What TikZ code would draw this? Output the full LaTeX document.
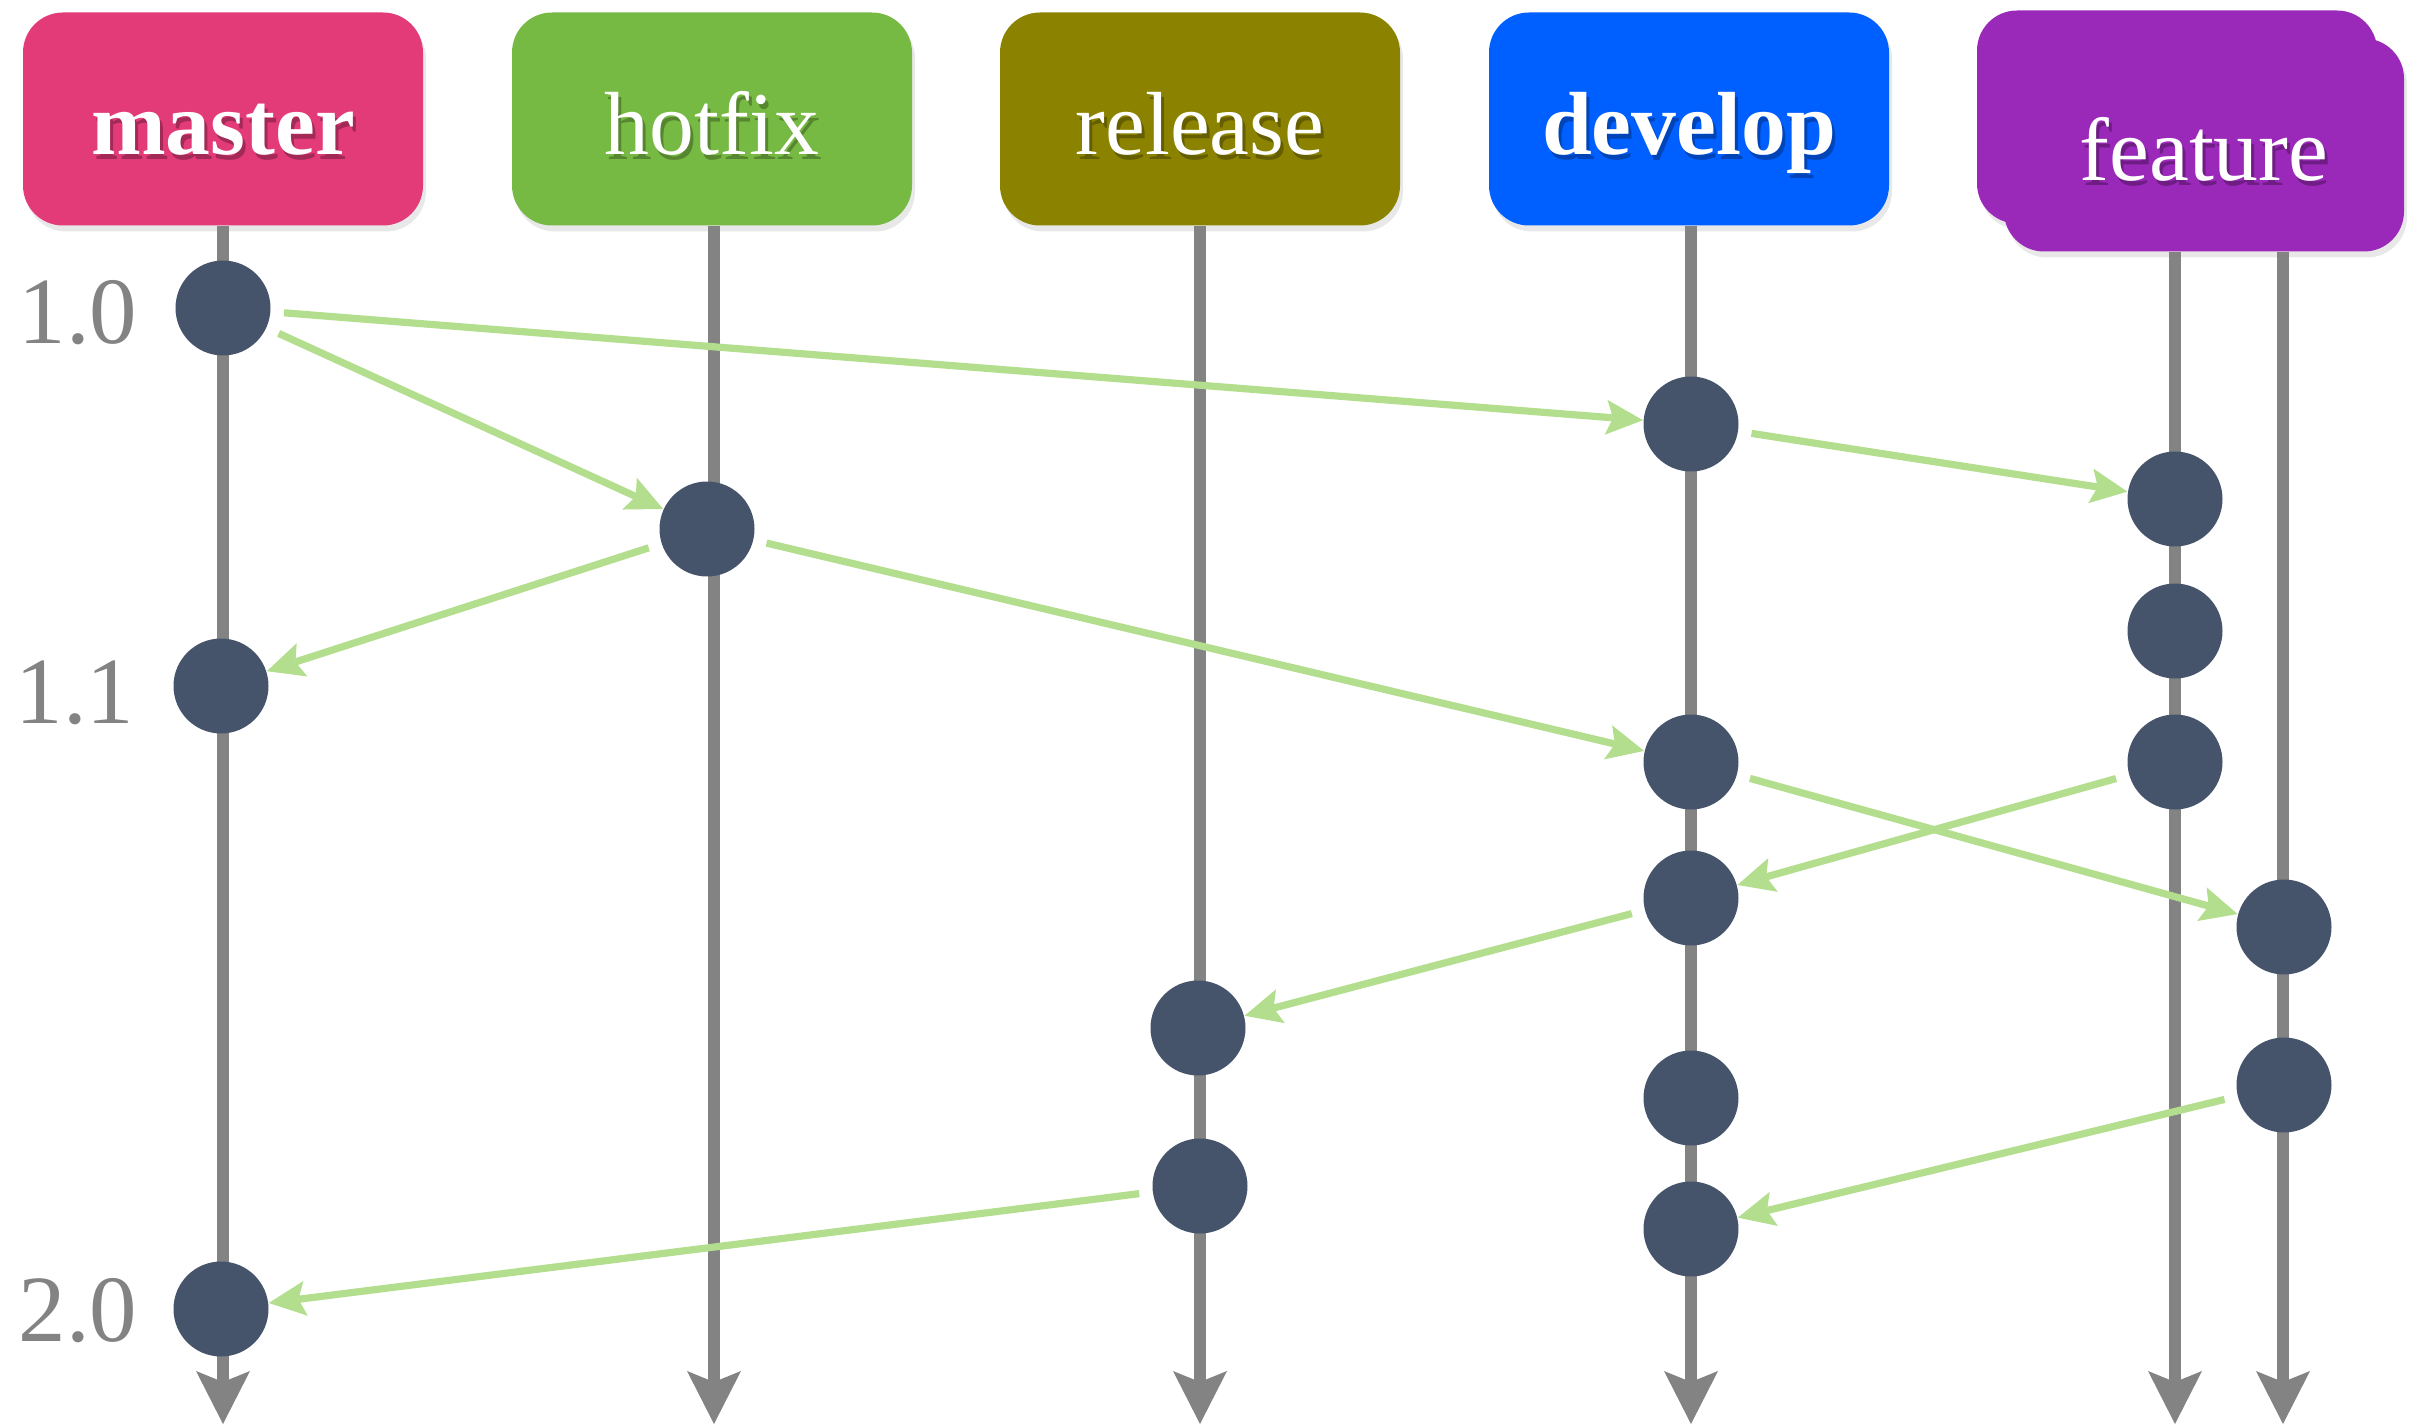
\documentclass[tikz,border=0pt]{standalone}
\usepackage{fontspec}
\setmainfont{Liberation Serif}
\usetikzlibrary{arrows.meta,shadows,positioning}

\definecolor{masterpink}{HTML}{E33A78}
\definecolor{hotfixgreen}{HTML}{77BA43}
\definecolor{releaseolive}{HTML}{8B8300}
\definecolor{developblue}{HTML}{005FFF}
\definecolor{featurepurple}{HTML}{9A28B9}
\definecolor{commitslate}{HTML}{46546B}
\definecolor{lanegray}{HTML}{838383}
\definecolor{mergegreen}{HTML}{B2DE8E}

\newcommand\brtext[2]{\makebox[0pt][l]{\hspace{0.3mm}\raisebox{-0.45mm}{\textcolor{#2!72!black}{#1}}}#1}

\tikzset{
  branch/.style={rounded corners=4mm, minimum width=40mm, minimum height=21.3mm,
    text=white, font=\fontsize{25.5}{28}\selectfont,
    text height=8.7mm, text depth=1.5mm,
    drop shadow={shadow xshift=0.3mm, shadow yshift=-0.6mm, opacity=0.18}},
  commit/.style={circle, fill=commitslate, minimum size=9.5mm, inner sep=0pt},
  lane/.style={line width=1.25mm, color=lanegray,
    -{Stealth[length=5.3mm, width=5.4mm, inset=1.1mm, line width=0pt, fill=lanegray]}},
  merge/.style={line width=0.72mm, color=mergegreen, shorten <=1.3mm,
    -{Stealth[length=3.7mm, width=3.5mm, inset=0.7mm, line width=0pt, fill=mergegreen]}},
  version/.style={text=lanegray, font=\fontsize{27}{30}\selectfont}
}

\begin{document}
\begin{tikzpicture}[x=0.1mm, y=-0.1mm]
  \useasboundingbox (0,0) rectangle (2424,1425);
  \node[branch, fill=masterpink, font=\fontsize{25.5}{28}\selectfont\bfseries] (master) at (223,119) {\brtext{master}{masterpink}};
  \node[branch, fill=hotfixgreen] (hotfix) at (712,119) {\brtext{hotfix}{hotfixgreen}};
  \node[branch, fill=releaseolive] (release) at (1200,119) {\brtext{release}{releaseolive}};
  \node[branch, fill=developblue, font=\fontsize{25.5}{28}\selectfont\bfseries] (develop) at (1689,119) {\brtext{develop}{developblue}};
  \node[branch, fill=featurepurple] (featback) at (2177,117) {};
  \node[branch, fill=featurepurple] (feature) at (2204,145) {\brtext{feature}{featurepurple}};

  \foreach \b/\x in {master/223, hotfix/714, release/1200, develop/1691}
    \coordinate (\b-end) at (\x,1424);
  \coordinate (feat1-end) at (2175,1424);
  \coordinate (feat2-end) at (2283,1424);
  \foreach \b in {master, hotfix, release, develop}
    \draw[lane] (\b.south -| \b-end) -- (\b-end);
  \draw[lane] (feature.south -| feat1-end) -- (feat1-end);
  \draw[lane] (feature.south -| feat2-end) -- (feat2-end);

  \foreach \c/\x/\y in {m1/223/308, h1/707/529, m2/221/686, d1/1691/424,
      fa/2175/499, fb/2175/631, fc/2175/762, d2/1691/762, d3/1691/898,
      fd/2284/927, r1/1198/1028, r2/1200/1186, d4/1691/1098,
      d5/1691/1229, fe/2284/1085, m3/221/1309}
    \node[commit] (\c) at (\x,\y) {};

  \foreach \a/\b in {m1/d1, m1/h1, h1/m2, h1/d2, d1/fa, d2/fd,
      fc/d3, d3/r1, r2/m3, fe/d5}
    \draw[merge] (\a) -- (\b);

  \node[version] (v10) at (78,313) {1.0};
  \node[version] (v11) at (75,693) {1.1};
  \node[version] (v20) at (78,1311) {2.0};
\end{tikzpicture}
\end{document}
